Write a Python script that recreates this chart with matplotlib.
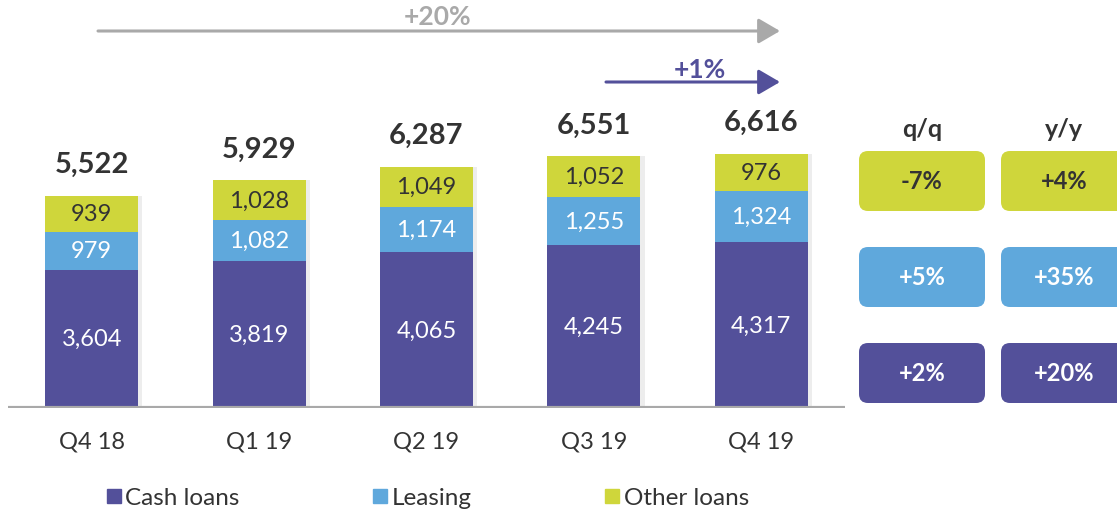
import matplotlib.pyplot as plt
from matplotlib.patches import FancyBboxPatch, Patch

plt.rcParams["font.family"] = ["Lato", "DejaVu Sans"]

quarters = ["Q4 18", "Q1 19", "Q2 19", "Q3 19", "Q4 19"]
cash_loans = [3604, 3819, 4065, 4245, 4317]
leasing = [979, 1082, 1174, 1255, 1324]
other_loans = [939, 1028, 1049, 1052, 976]
totals = [5522, 5929, 6287, 6551, 6616]

growth_headers = ["q/q", "y/y"]
qq_change = ["-7%", "+5%", "+2%"]
yy_change = ["+4%", "+35%", "+20%"]

PURPLE = "#53509a"
BLUE = "#5fa8dc"
LIME = "#cfd63b"
GREY = "#a9a9a9"
DARK = "#333333"

W, H = 1117, 510
fig = plt.figure(figsize=(W / 100, H / 100), dpi=100)

# main bar axes: baseline 102 px from the bottom
ax = fig.add_axes([8 / W, 101 / H, 837 / W, 409 / H])
x = list(range(len(quarters)))
bw = 0.555

# soft drop shadow to the right of each bar
ax.bar([i + 0.025 for i in x], totals, width=bw, color="#ededed", zorder=1)

b1 = ax.bar(x, cash_loans, width=bw, color=PURPLE, zorder=2)
b2 = ax.bar(x, leasing, width=bw, bottom=cash_loans, color=BLUE, zorder=2)
base3 = [c + l for c, l in zip(cash_loans, leasing)]
b3 = ax.bar(x, other_loans, width=bw, bottom=base3, color=LIME, zorder=2)

for bars, vals, col in [(b1, cash_loans, "white"), (b2, leasing, "white"), (b3, other_loans, DARK)]:
    for bar, v in zip(bars, vals):
        ax.text(bar.get_x() + bar.get_width() / 2, bar.get_y() + bar.get_height() / 2,
                f"{v:,}", ha="center", va="center", color=col, fontsize=17, zorder=3)

for i, t, top in zip(x, totals, [a + b for a, b in zip(base3, other_loans)]):
    ax.annotate(f"{t:,}", (i, top), xytext=(0, 17), textcoords="offset points",
                ha="center", va="baseline", fontsize=21, fontweight="bold", color=DARK)

ax.axhline(0, color=GREY, lw=3, zorder=4)
ax.set_xlim(-0.5, 4.5)
ax.set_ylim(0, 10650)
ax.set_xticks(x)
ax.set_xticklabels(quarters, fontsize=17, color=DARK)
ax.tick_params(axis="x", length=0, pad=16)
ax.set_yticks([])
for s in ax.spines.values():
    s.set_visible(False)

# overlay in pixel coordinates for arrows and growth boxes
ov = fig.add_axes([0, 0, 1, 1], facecolor="none")
ov.set_xlim(0, W)
ov.set_ylim(H, 0)
ov.axis("off")

ov.annotate("", xy=(780, 32), xytext=(98, 32),
            arrowprops=dict(arrowstyle="-|>,head_length=0.6,head_width=0.35",
                            color=GREY, lw=2.2, mutation_scale=22, shrinkA=0, shrinkB=0))
ov.text(438, 17, "+20%", ha="center", va="center", fontsize=19, fontweight="bold", color=GREY)
ov.annotate("", xy=(780, 83), xytext=(606, 83),
            arrowprops=dict(arrowstyle="-|>,head_length=0.6,head_width=0.35",
                            color=PURPLE, lw=2.2, mutation_scale=22, shrinkA=0, shrinkB=0))
ov.text(700, 70, "+1%", ha="center", va="center", fontsize=19, fontweight="bold", color=PURPLE)

box_cols = [LIME, BLUE, PURPLE]
txt_cols = [DARK, "white", "white"]
row_tops = [152, 248, 344]
col_lefts = [859, 1001]
for c, (head, vals) in enumerate(zip(growth_headers, [qq_change, yy_change])):
    left = col_lefts[c]
    ov.text(left + 63, 130, head, ha="center", va="center", fontsize=18,
            fontweight="bold", color=DARK)
    for r, v in enumerate(vals):
        top = row_tops[r]
        shadow = FancyBboxPatch((left + 4, top + 5), 120, 55,
                                boxstyle="round,pad=0,rounding_size=9",
                                fc="#d6d6d6", ec="none", zorder=1)
        box = FancyBboxPatch((left, top), 126, 60,
                             boxstyle="round,pad=0,rounding_size=9",
                             fc=box_cols[r], ec="none", zorder=2)
        ov.add_patch(shadow)
        ov.add_patch(box)
        ov.text(left + 63, top + 30, v, ha="center", va="center", fontsize=17,
                fontweight="bold", color=txt_cols[r], zorder=3)

handles = [Patch(color=PURPLE), Patch(color=BLUE), Patch(color=LIME)]
fig.legend(handles, ["Cash loans", "Leasing", "Other loans"], loc="center left",
           bbox_to_anchor=(95 / W, 11 / H), ncol=3, frameon=False, fontsize=17.5,
           handlelength=0.55, handleheight=0.55, handletextpad=0.2,
           columnspacing=5.5, borderpad=0, labelcolor=DARK)

fig.savefig("out.png", dpi=100)
